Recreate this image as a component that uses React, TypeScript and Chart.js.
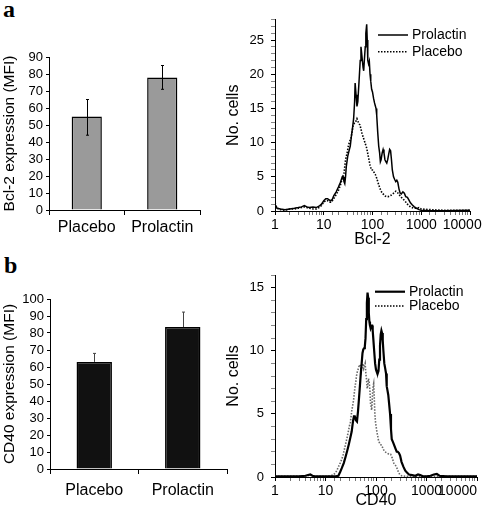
import React, { useEffect, useRef } from 'react';
import { Chart, registerables } from 'chart.js';

Chart.register(...registerables);

const FONT = "'Liberation Sans', Arial, Helvetica, sans-serif";
Chart.defaults.font.family = FONT;
Chart.defaults.color = '#000';

// ---------- bar panels ----------
const barCategories = ['Placebo', 'Prolactin'];
const bcl2Means = [55, 78];
const bcl2Low = [44, 71];
const bcl2High = [65, 85];
const cd40Means = [63, 83.5];
const cd40High = [68, 92.3];

// ---------- histogram panels: [fluorescence, number of cells] ----------
const bcl2Prolactin: [number, number][] = [
  [1, 0.8], [1.1, 0.4], [1.3, 0.3], [1.6, 0.2], [2, 0.3], [2.5, 0.4], [3, 0.5], [3.5, 0.6], [4, 0.8], [4.5, 0.6],
  [5, 0.5], [6, 0.6], [7, 0.5], [8, 0.7], [9, 1.0], [10, 1.5], [11, 1.8], [12, 1.8], [13, 1.6], [14, 1.5],
  [15, 1.7], [16, 2.2], [18, 2.8], [20, 3.5], [22, 4.2], [24, 5.0], [25, 5.0], [26, 4.3], [27, 4.0], [28, 5.0],
  [29, 6.5], [31, 8.0], [33, 8.8], [35, 9.5], [37, 11], [39, 12.2], [41, 13.5], [43, 16], [44, 18.7], [46, 17],
  [48, 15.3], [50, 16], [53, 19], [56, 22], [58, 24], [60, 23], [62, 22], [64, 21], [66, 20.5], [68, 22],
  [71, 24], [73, 26], [76, 27.3], [78, 25], [80, 22], [83, 21.5], [86, 21.9], [89, 20], [92, 19], [96, 17.8],
  [100, 17.4], [105, 16.5], [110, 15.8], [113, 15.5], [118, 15], [122, 14], [128, 11.5], [134, 9.5], [140, 8.5], [145, 7.2],
  [150, 7.5], [158, 8.5], [165, 9], [172, 8.5], [180, 7.5], [188, 7.2], [196, 7], [205, 7.5], [215, 8.3], [225, 9],
  [235, 8.8], [245, 7.5], [255, 6], [270, 5], [285, 4.6], [300, 4.3], [315, 4.5], [330, 4.2], [350, 3.2], [370, 2.6],
  [390, 2.5], [420, 2.8], [450, 2.6], [480, 2.1], [520, 2.0], [560, 1.6], [600, 1.2], [650, 0.9], [720, 0.6], [800, 0.4],
  [900, 0.2], [1000, 0.1], [1500, 0.05], [3000, 0.05], [10000, 0.1],
];
const bcl2Placebo: [number, number][] = [
  [1, 1.2], [1.1, 0.4], [1.3, 0.2], [1.6, 0.1], [2, 0.3], [2.5, 0.3], [3, 0.4], [3.5, 0.5], [4, 0.6], [4.5, 0.5],
  [5, 0.4], [6, 0.3], [7, 0.3], [8, 0.5], [9, 0.8], [10, 1.3], [11, 1.5], [12, 1.5], [13, 1.3], [14, 1.3],
  [15, 1.5], [16, 1.8], [18, 2.4], [20, 3.0], [22, 3.8], [24, 4.8], [25, 5.2], [26, 5.5], [28, 7.5], [30, 8.4],
  [32, 9.5], [34, 10.2], [36, 10.5], [38, 11.5], [40, 12.5], [42, 12.8], [45, 13.0], [48, 13.5], [50, 13.2], [52, 12.8],
  [55, 12.6], [58, 12], [60, 11.5], [65, 10.7], [70, 10], [76, 9.2], [82, 8], [89, 6.7], [95, 6.0], [100, 6.0],
  [105, 5.8], [110, 5.5], [115, 5.3], [122, 4.8], [132, 4.0], [142, 3.3], [150, 2.9], [160, 2.6], [170, 2.4], [180, 2.2],
  [195, 2.1], [210, 2.1], [225, 2.2], [240, 2.3], [260, 2.5], [280, 2.7], [300, 2.9], [315, 2.8], [335, 2.6], [360, 2.3],
  [390, 2.0], [430, 1.7], [470, 1.4], [520, 1.0], [560, 0.8], [600, 0.6], [700, 0.4], [800, 0.4], [900, 0.5], [1000, 0.3],
  [1500, 0.2], [3000, 0.1], [10000, 0.1],
];
const cd40Prolactin: [number, number][] = [
  [1, 0.05], [2, 0.05], [3, 0.05], [4, 0.1], [5, 0.2], [5.5, 0.1], [6, 0.05], [8, 0.05], [10, 0.05], [13, 0.05],
  [16, 0.05], [18, 0.1], [19.5, 0.4], [21, 0.7], [23, 1.1], [25, 1.6], [27, 2.1], [29, 2.6], [31, 3.1], [33, 3.6],
  [35, 4.4], [36.5, 4.8], [38, 4.8], [40, 4.5], [42, 4.4], [44, 5.2], [46, 6.2], [48, 7.2], [50, 8.2], [52, 9.0],
  [54, 9.8], [56, 10.1], [58, 10.2], [60, 10.3], [62, 11], [64, 12.5], [66, 13.8], [68, 14.6], [70, 14.2], [72, 13.0],
  [74, 12.3], [76, 12.0], [78, 11.8], [81, 12.0], [84, 12.0], [86, 11.6], [89, 10.8], [92, 10.0], [96, 9.0], [100, 8.5],
  [104, 8.3], [108, 8.2], [112, 8.4], [116, 9.3], [120, 10.4], [124, 11.3], [128, 11.6], [132, 11.4], [136, 10.8], [140, 10.0],
  [146, 9.0], [152, 8.6], [158, 8.2], [163, 7.2], [168, 6.9], [175, 6.5], [182, 5.8], [190, 5.0], [198, 3.8], [205, 3.0],
  [215, 2.8], [225, 2.6], [240, 2.3], [257, 2.0], [270, 2.0], [285, 1.9], [300, 1.7], [320, 1.2], [350, 0.8], [380, 0.5],
  [410, 0.35], [450, 0.2], [520, 0.15], [600, 0.1], [680, 0.2], [750, 0.15], [850, 0.05], [1000, 0.05], [1200, 0.1], [1400, 0.2],
  [1600, 0.25], [1800, 0.1], [2500, 0.05], [10000, 0.05],
];
const cd40Placebo: [number, number][] = [
  [1, 0.05], [3, 0.05], [4.5, 0.1], [5, 0.2], [5.5, 0.1], [7, 0.05], [10, 0.05], [12, 0.1], [14, 0.15], [15.5, 0.3],
  [16.7, 0.5], [18, 0.8], [19.5, 1.1], [21, 1.4], [22.5, 1.8], [24, 2.3], [26, 2.9], [28, 3.5], [30, 4.1], [31, 4.3],
  [33, 5.2], [35, 5.8], [36, 6.1], [38, 7.0], [40, 7.6], [41, 8.0], [43, 8.4], [45, 8.6], [47, 8.9], [49, 8.8],
  [51, 8.4], [53, 8.8], [55, 9.0], [57, 8.6], [59, 8.8], [61, 9.0], [63, 8.2], [65, 7.7], [67, 7.0], [69, 7.3],
  [71, 7.8], [73, 7.6], [76, 6.8], [78, 5.8], [80, 5.6], [82, 5.3], [84, 6.0], [86, 6.8], [88, 7.2], [90, 7.4],
  [92, 6.5], [95, 5.0], [98, 4.3], [104, 3.6], [112, 2.9], [120, 2.6], [130, 2.5], [139, 2.2], [150, 2.0], [165, 1.9],
  [180, 1.8], [195, 1.8], [210, 1.5], [225, 1.1], [245, 0.9], [260, 0.7], [277, 0.4], [295, 0.2], [320, 0.1], [400, 0.05],
  [10000, 0.05],
];

const seriesLabels = ['Prolactin', 'Placebo'];

// ---------- plugins ----------
const errorBarPlugin = {
  id: 'errorBars',
  afterDatasetsDraw(chart: any, _args: any, opts: any) {
    const { ctx } = chart;
    const meta = chart.getDatasetMeta(0);
    const ys = chart.scales.y;
    const means = chart.data.datasets[0].data as number[];
    ctx.save();
    ctx.strokeStyle = opts.color;
    ctx.lineWidth = opts.width;
    meta.data.forEach((bar: any, i: number) => {
      const x = Math.round(bar.x) + 0.5;
      const top = ys.getPixelForValue(opts.high[i]);
      const bottom = ys.getPixelForValue(opts.low ? opts.low[i] : means[i]);
      ctx.beginPath();
      ctx.moveTo(x, top);
      ctx.lineTo(x, bottom);
      ctx.moveTo(x - opts.cap, top);
      ctx.lineTo(x + opts.cap, top);
      if (opts.low) {
        ctx.moveTo(x - opts.cap, bottom);
        ctx.lineTo(x + opts.cap, bottom);
      }
      ctx.stroke();
    });
    ctx.restore();
  },
};

const lineLegendPlugin = {
  id: 'lineLegend',
  afterDraw(chart: any, _args: any, opts: any) {
    const { ctx } = chart;
    chart.data.datasets.forEach((ds: any, i: number) => {
      const y = opts.y + i * opts.gap;
      ctx.save();
      ctx.strokeStyle = '#000';
      ctx.lineWidth = opts.lineWidths[i];
      ctx.setLineDash(ds.borderDash || []);
      ctx.beginPath();
      ctx.moveTo(opts.x, y);
      ctx.lineTo(opts.x + opts.len, y);
      ctx.stroke();
      ctx.setLineDash([]);
      ctx.fillStyle = '#000';
      ctx.font = `14px ${FONT}`;
      ctx.textBaseline = 'middle';
      ctx.fillText(ds.label, opts.x + opts.len + 4, y + 0.5);
      ctx.restore();
    });
  },
};

// ---------- config builders ----------
function barConfig(opts: {
  means: number[]; low?: number[]; high: number[]; max: number; title: string; fill: string;
  errColor: string; yWidth: number; xHeight: number; padTop: number; padRight: number; tickPad: number;
}) {
  return {
    type: 'bar',
    data: {
      labels: barCategories,
      datasets: [{
        data: opts.means,
        backgroundColor: opts.fill,
        borderColor: '#000',
        borderWidth: 1.5,
        barPercentage: 0.4,
        categoryPercentage: 1,
      }],
    },
    plugins: [errorBarPlugin],
    options: {
      animation: false,
      responsive: false,
      events: [],
      layout: { padding: { top: opts.padTop, right: opts.padRight, left: 0, bottom: 0 } },
      plugins: {
        legend: { display: false },
        tooltip: { enabled: false },
        errorBars: { low: opts.low, high: opts.high, color: opts.errColor, width: 1, cap: 1.5 },
      },
      scales: {
        x: {
          afterFit: (s: any) => { s.height = opts.xHeight; },
          grid: { drawOnChartArea: false, offset: true, tickLength: 5, color: '#000' },
          border: { color: '#000', width: 1 },
          ticks: { font: { size: 16 }, color: '#000', padding: opts.tickPad },
        },
        y: {
          min: 0,
          max: opts.max,
          afterFit: (s: any) => { s.width = opts.yWidth; },
          grid: { drawOnChartArea: false, tickLength: 3, color: '#000' },
          border: { color: '#000', width: 1 },
          ticks: { stepSize: 10, autoSkip: false, font: { size: 13 }, color: '#000', padding: 3 },
          title: { display: true, text: opts.title, font: { size: 15.5 }, color: '#000', padding: { top: 0.5, bottom: 0 } },
        },
      },
    },
  };
}

function isPow10(v: number) {
  const l = Math.log10(v);
  return Math.abs(l - Math.round(l)) < 1e-9;
}

function histConfig(opts: {
  prolactin: [number, number][]; placebo: [number, number][]; max: number; xTitle: string;
  solidWidth: number; dotColor: string; padTop: number; padRight: number; xHeight: number;
  titleBottom: number; lastPad: number; legend: { x: number; y: number; gap: number };
}) {
  return {
    type: 'line',
    data: {
      datasets: [
        {
          label: seriesLabels[0],
          data: opts.prolactin.map(([x, y]) => ({ x, y })),
          borderColor: '#000',
          borderWidth: opts.solidWidth,
          pointRadius: 0,
          tension: 0,
          fill: false,
        },
        {
          label: seriesLabels[1],
          data: opts.placebo.map(([x, y]) => ({ x, y })),
          borderColor: opts.dotColor,
          borderWidth: 1.6,
          borderDash: [1.5, 1.5],
          pointRadius: 0,
          tension: 0,
          fill: false,
        },
      ],
    },
    plugins: [lineLegendPlugin],
    options: {
      animation: false,
      responsive: false,
      events: [],
      layout: { padding: { top: opts.padTop, right: opts.padRight, left: 0, bottom: 0 } },
      plugins: {
        legend: { display: false },
        tooltip: { enabled: false },
        lineLegend: { ...opts.legend, len: 30, lineWidths: [opts.solidWidth, 1.6] },
      },
      scales: {
        x: {
          type: 'logarithmic',
          min: 1,
          max: 10000,
          afterFit: (s: any) => { s.height = opts.xHeight; s.paddingLeft = 0; s.paddingRight = 0; },
          grid: {
            drawOnChartArea: false,
            tickLength: 4,
            color: '#000',
            tickColor: (c: any) => (c.tick && isPow10(c.tick.value) ? '#000' : '#777'),
          },
          border: { color: '#000', width: 1 },
          ticks: {
            autoSkip: false,
            maxRotation: 0,
            minRotation: 0,
            padding: 2,
            font: { size: 14 },
            color: '#000',
            callback: (v: any) => {
              const n = Number(v);
              if (!isPow10(n)) return '';
              const s = String(Math.round(n));
              return n >= 10000 ? s + ' '.repeat(opts.lastPad) : s;
            },
          },
          title: { display: true, text: opts.xTitle, font: { size: 16 }, color: '#000', padding: { top: 0, bottom: opts.titleBottom } },
        },
        y: {
          min: 0,
          max: opts.max,
          afterFit: (s: any) => { s.width = 51; },
          grid: {
            drawOnChartArea: false,
            tickLength: 4,
            color: '#000',
            tickColor: (c: any) => (c.tick && c.tick.value % 5 === 0 ? '#000' : '#888'),
          },
          border: { color: '#000', width: 1 },
          ticks: {
            stepSize: 1,
            autoSkip: false,
            padding: 7,
            font: { size: 13 },
            color: '#000',
            callback: (v: any) => (Number(v) % 5 === 0 ? String(v) : ''),
          },
          title: { display: true, text: 'No. cells', font: { size: 16 }, color: '#000', padding: { top: 0, bottom: 0 } },
        },
      },
    },
  };
}

function ChartCanvas({ make, left, top, width, height }: { make: () => any; left: number; top: number; width: number; height: number }) {
  const ref = useRef<HTMLCanvasElement>(null);
  useEffect(() => {
    const chart = new Chart(ref.current as HTMLCanvasElement, make());
    return () => chart.destroy();
  }, []);
  return (
    <canvas
      ref={ref}
      width={width}
      height={height}
      style={{ position: 'absolute', left, top, width, height, display: 'block' }}
    />
  );
}

const panelLabel: React.CSSProperties = {
  position: 'absolute',
  fontFamily: "'Liberation Serif', 'Times New Roman', serif",
  fontWeight: 'bold',
  fontSize: 24,
  lineHeight: '24px',
  color: '#000',
};

export default function App() {
  return (
    <div style={{ position: 'absolute', left: 0, top: 0, width: 484, height: 514, background: '#fff', overflow: 'hidden' }}>
      <div style={{ ...panelLabel, left: 3, top: -3 }}>a</div>
      <div style={{ ...panelLabel, left: 4, top: 253 }}>b</div>

      <ChartCanvas
        left={0} top={40} width={215} height={210}
        make={() => barConfig({
          means: bcl2Means, low: bcl2Low, high: bcl2High, max: 90, title: 'Bcl-2 expression (MFI)',
          fill: '#9a9a9a', errColor: '#000', yWidth: 49, xHeight: 40, padTop: 17, padRight: 15, tickPad: 3,
        })}
      />
      <ChartCanvas
        left={224} top={0} width={260} height={250}
        make={() => histConfig({
          prolactin: bcl2Prolactin, placebo: bcl2Placebo, max: 28, xTitle: 'Bcl-2',
          solidWidth: 1.5, dotColor: '#000', padTop: 19.5, padRight: 14, xHeight: 39, titleBottom: 1, lastPad: 4,
          legend: { x: 154, y: 35, gap: 16.7 },
        })}
      />
      <ChartCanvas
        left={0} top={270} width={240} height={240}
        make={() => barConfig({
          means: cd40Means, high: cd40High, max: 100, title: 'CD40 expression (MFI)',
          fill: '#111', errColor: '#444', yWidth: 50, xHeight: 41, padTop: 29, padRight: 13, tickPad: 6.5,
        })}
      />
      <ChartCanvas
        left={224} top={250} width={260} height={264}
        make={() => histConfig({
          prolactin: cd40Prolactin, placebo: cd40Placebo, max: 16, xTitle: 'CD40',
          solidWidth: 2.2, dotColor: '#666', padTop: 25, padRight: 7, xHeight: 37, titleBottom: 3.5, lastPad: 10,
          legend: { x: 151, y: 41.7, gap: 14.3 },
        })}
      />
    </div>
  );
}
